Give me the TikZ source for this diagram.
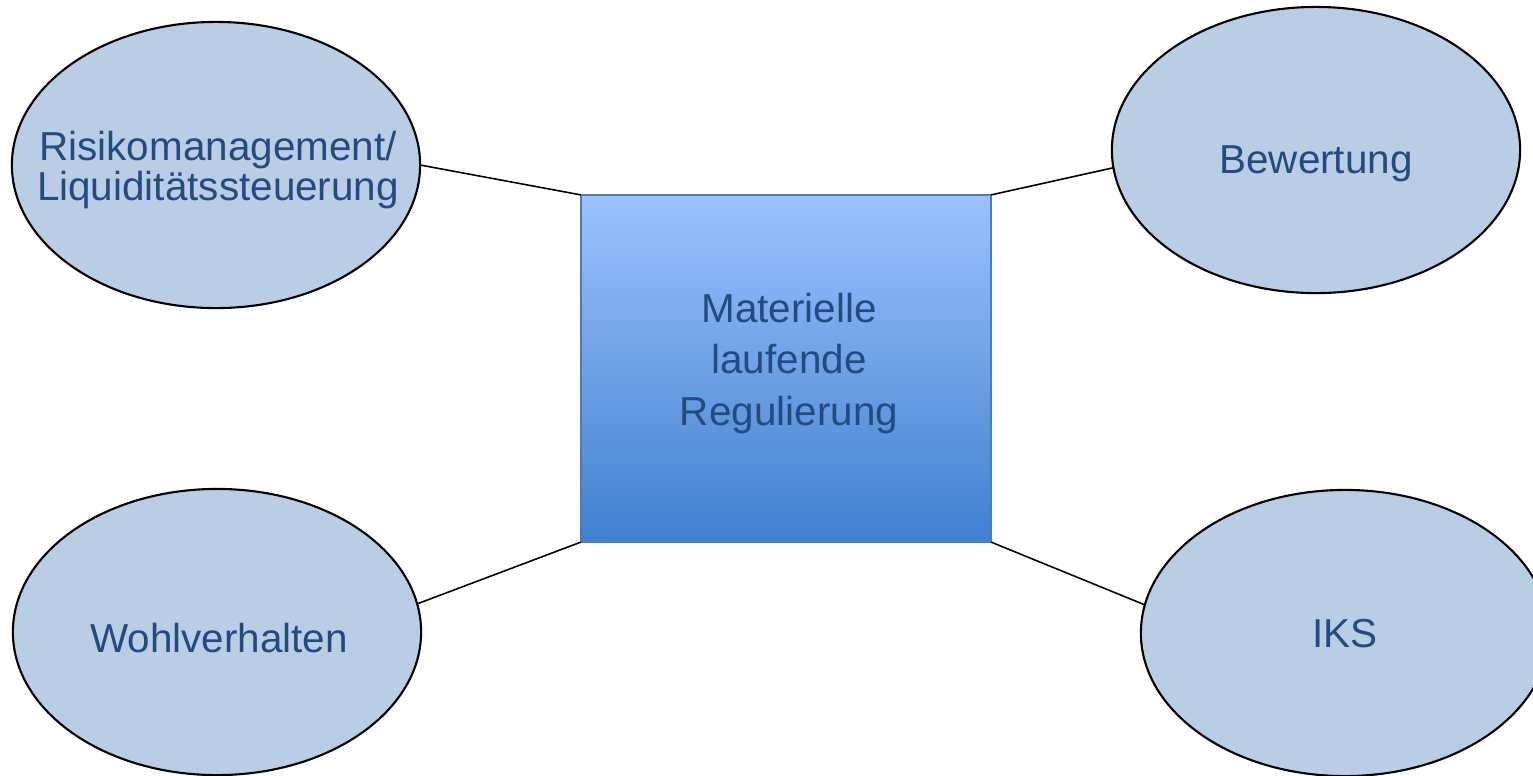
\documentclass[tikz,border=0pt]{standalone}
\usepackage{fontspec}
\setmainfont{Liberation Sans}
\usetikzlibrary{shapes.geometric}
\definecolor{topicfill}{RGB}{185,205,229}
\definecolor{labelblue}{RGB}{36,75,128}
\definecolor{coretop}{RGB}{156,194,255}
\definecolor{corebottom}{RGB}{63,128,206}
\definecolor{coreedge}{RGB}{74,126,187}
\begin{document}
\begin{tikzpicture}[x=0.01cm,y=-0.01cm,
  topic/.style={ellipse, draw=black, line width=0.6pt, fill=topicfill,
    minimum width=4.08cm, minimum height=2.86cm, inner sep=0pt, outer sep=0pt},
  core/.style={rectangle, draw=coreedge, line width=0.4pt,
    top color=coretop, bottom color=corebottom,
    minimum width=4.1cm, minimum height=3.47cm, inner sep=0pt, outer sep=0pt},
  txt/.style={anchor=base, text=labelblue, inner sep=0pt,
    font=\fontsize{11.5pt}{13.5pt}\selectfont},
  link/.style={draw=black, line width=0.45pt}]
\useasboundingbox (0,0) rectangle (1533,775);

% central box
\node[core] (core) at (786,368.5) {};
\node[txt] (core1) at (789,322) {Materielle};
\node[txt] (core2) at (789,373) {laufende};
\node[txt] (core3) at (789,425) {Regulierung};

% surrounding topics
\node[topic] (risk) at (216,165) {};
\node[txt] (risk1) at (218,160) {Risikomanagement/};
\node[txt] (risk2) at (218,200) {Liquiditätssteuerung};

\node[topic] (eval) at (1316,150) {};
\node[txt] (eval1) at (1316,173) {Bewertung};

\node[topic] (conduct) at (217,632) {};
\node[txt] (conduct1) at (219,652) {Wohlverhalten};

\node[topic] (ics) at (1345,633) {};
\node[txt] (ics1) at (1345,647) {IKS};

% connectors from the box corners to the topics
\draw[link] (core.north west) -- (risk.east);
\draw[link] (core.north east) -- (eval.-175);
\draw[link] (core.south west) -- (conduct.8);
\draw[link] (core.south east) -- (ics.172);
\end{tikzpicture}
\end{document}
